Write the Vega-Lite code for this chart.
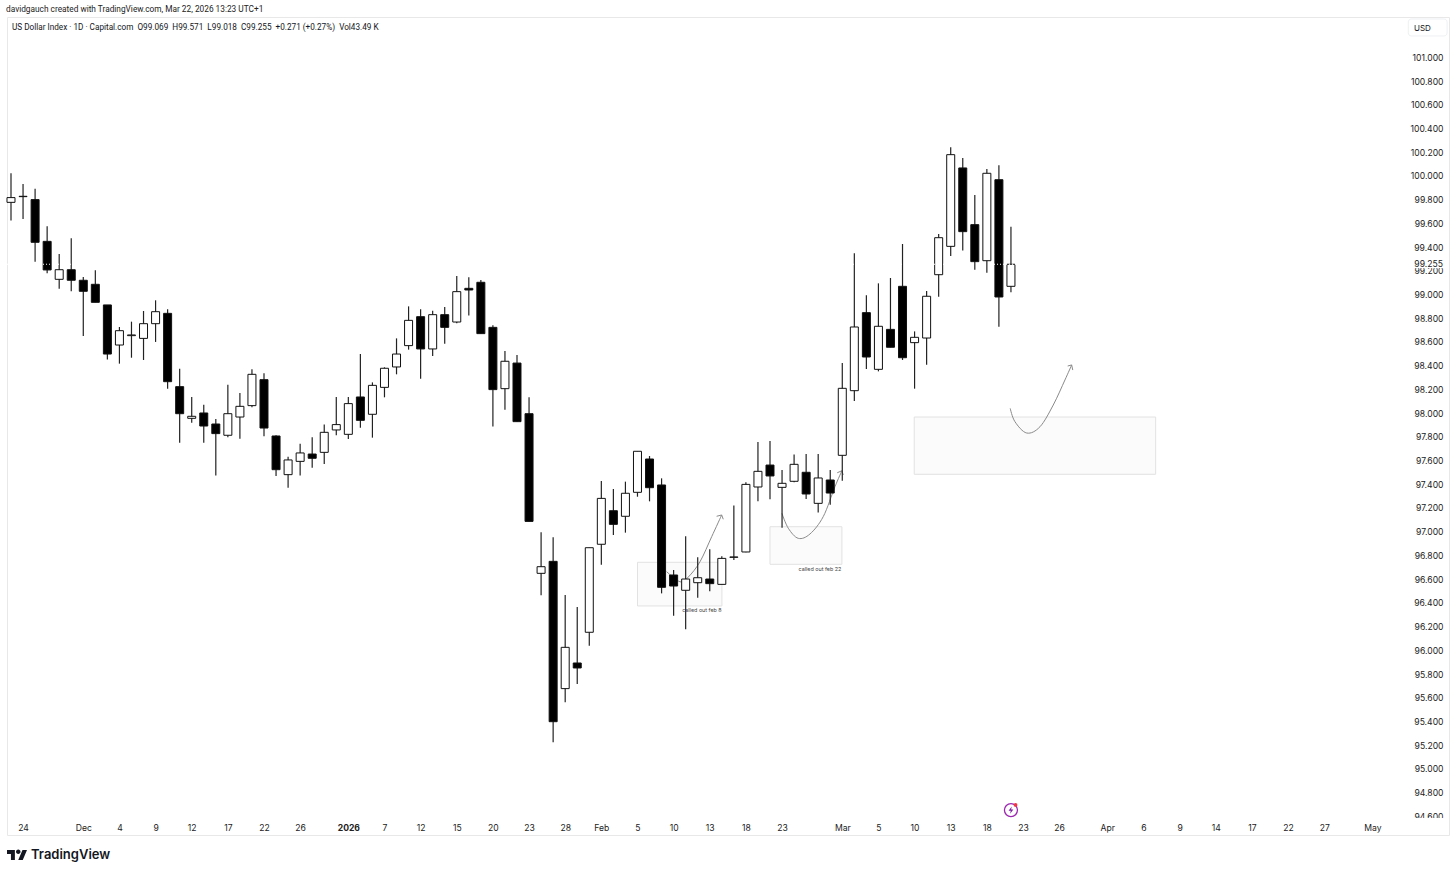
{"$schema":"https://vega.github.io/schema/vega-lite/v6.json","width":1442,"height":818,"autosize":"none","padding":{"left":7,"top":17,"right":7,"bottom":39},"background":"#ffffff","title":{"text":"davidgauch created with TradingView.com, Mar 22, 2026 13:23 UTC+1","anchor":"start","frame":"group","offset":4,"dx":-1,"fontSize":8.3,"fontWeight":"normal","font":"Roboto","color":"#222222"},"config":{"view":{"stroke":"#e8e8e8","strokeWidth":1},"font":"Inter","axis":{"labelOverlap":false}},"datasets":{"candles":[{"i":0,"o":99.777,"h":100.022,"l":99.623,"c":99.817},{"i":1,"o":99.825,"h":99.932,"l":99.637,"c":99.828},{"i":2,"o":99.8,"h":99.892,"l":99.277,"c":99.44},{"i":3,"o":99.448,"h":99.575,"l":99.179,"c":99.207},{"i":4,"o":99.128,"h":99.342,"l":99.049,"c":99.209},{"i":5,"o":99.209,"h":99.474,"l":99.027,"c":99.12},{"i":6,"o":99.12,"h":99.148,"l":98.65,"c":99.027},{"i":7,"o":99.086,"h":99.204,"l":98.934,"c":98.934},{"i":8,"o":98.912,"h":98.912,"l":98.451,"c":98.498},{"i":9,"o":98.574,"h":98.726,"l":98.417,"c":98.695},{"i":10,"o":98.653,"h":98.771,"l":98.467,"c":98.659},{"i":11,"o":98.63,"h":98.861,"l":98.448,"c":98.754},{"i":12,"o":98.754,"h":98.951,"l":98.6,"c":98.855},{"i":13,"o":98.841,"h":98.875,"l":98.206,"c":98.265},{"i":14,"o":98.223,"h":98.375,"l":97.751,"c":97.995},{"i":15,"o":97.956,"h":98.136,"l":97.919,"c":97.973},{"i":16,"o":98.001,"h":98.071,"l":97.751,"c":97.891},{"i":17,"o":97.908,"h":97.95,"l":97.473,"c":97.827},{"i":18,"o":97.813,"h":98.24,"l":97.796,"c":97.995},{"i":19,"o":97.967,"h":98.17,"l":97.784,"c":98.057},{"i":20,"o":98.063,"h":98.369,"l":98.049,"c":98.327},{"i":21,"o":98.282,"h":98.335,"l":97.804,"c":97.874},{"i":22,"o":97.807,"h":97.813,"l":97.47,"c":97.523},{"i":23,"o":97.481,"h":97.633,"l":97.371,"c":97.605},{"i":24,"o":97.593,"h":97.742,"l":97.473,"c":97.664},{"i":25,"o":97.655,"h":97.796,"l":97.54,"c":97.619},{"i":26,"o":97.669,"h":97.903,"l":97.571,"c":97.838},{"i":27,"o":97.858,"h":98.136,"l":97.813,"c":97.903},{"i":28,"o":97.821,"h":98.136,"l":97.782,"c":98.08},{"i":29,"o":98.136,"h":98.498,"l":97.877,"c":97.939},{"i":30,"o":97.99,"h":98.259,"l":97.793,"c":98.234},{"i":31,"o":98.217,"h":98.386,"l":98.133,"c":98.378},{"i":32,"o":98.389,"h":98.63,"l":98.327,"c":98.498},{"i":33,"o":98.569,"h":98.9,"l":98.535,"c":98.782},{"i":34,"o":98.813,"h":98.875,"l":98.29,"c":98.541},{"i":35,"o":98.541,"h":98.864,"l":98.482,"c":98.83},{"i":36,"o":98.83,"h":98.895,"l":98.585,"c":98.723},{"i":37,"o":98.768,"h":99.156,"l":98.757,"c":99.024},{"i":38,"o":99.052,"h":99.145,"l":98.822,"c":99.038},{"i":39,"o":99.103,"h":99.122,"l":98.67,"c":98.67},{"i":40,"o":98.723,"h":98.74,"l":97.886,"c":98.198},{"i":41,"o":98.206,"h":98.524,"l":98.029,"c":98.437},{"i":42,"o":98.422,"h":98.49,"l":97.928,"c":97.928},{"i":43,"o":97.995,"h":98.133,"l":97.087,"c":97.087},{"i":44,"o":96.649,"h":96.995,"l":96.464,"c":96.705},{"i":45,"o":96.75,"h":96.953,"l":95.224,"c":95.398},{"i":46,"o":95.677,"h":96.466,"l":95.561,"c":96.025},{"i":47,"o":95.893,"h":96.365,"l":95.716,"c":95.851},{"i":48,"o":96.152,"h":96.865,"l":96.039,"c":96.865},{"i":49,"o":96.894,"h":97.428,"l":96.722,"c":97.281},{"i":50,"o":97.177,"h":97.36,"l":96.972,"c":97.062},{"i":51,"o":97.13,"h":97.422,"l":96.992,"c":97.324},{"i":52,"o":97.332,"h":97.678,"l":97.295,"c":97.678},{"i":53,"o":97.613,"h":97.638,"l":97.256,"c":97.371},{"i":54,"o":97.394,"h":97.45,"l":96.48,"c":96.531},{"i":55,"o":96.635,"h":96.677,"l":96.292,"c":96.542},{"i":56,"o":96.506,"h":96.961,"l":96.177,"c":96.601},{"i":57,"o":96.57,"h":96.784,"l":96.444,"c":96.612},{"i":58,"o":96.601,"h":96.851,"l":96.497,"c":96.562},{"i":59,"o":96.556,"h":96.792,"l":96.556,"c":96.775},{"i":60,"o":96.784,"h":97.22,"l":96.761,"c":96.787},{"i":61,"o":96.829,"h":97.416,"l":96.826,"c":97.399},{"i":62,"o":97.377,"h":97.756,"l":97.256,"c":97.509},{"i":63,"o":97.562,"h":97.765,"l":97.273,"c":97.47},{"i":64,"o":97.374,"h":97.52,"l":97.034,"c":97.408},{"i":65,"o":97.425,"h":97.65,"l":97.416,"c":97.568},{"i":66,"o":97.501,"h":97.655,"l":97.276,"c":97.318},{"i":67,"o":97.239,"h":97.655,"l":97.161,"c":97.453},{"i":68,"o":97.436,"h":97.52,"l":97.228,"c":97.326},{"i":69,"o":97.644,"h":98.422,"l":97.43,"c":98.209},{"i":70,"o":98.189,"h":99.347,"l":98.102,"c":98.726},{"i":71,"o":98.847,"h":98.993,"l":98.372,"c":98.473},{"i":72,"o":98.369,"h":99.094,"l":98.352,"c":98.732},{"i":73,"o":98.706,"h":99.139,"l":98.555,"c":98.555},{"i":74,"o":99.069,"h":99.426,"l":98.448,"c":98.467},{"i":75,"o":98.594,"h":98.689,"l":98.206,"c":98.639},{"i":76,"o":98.633,"h":99.03,"l":98.408,"c":98.985},{"i":77,"o":99.167,"h":99.51,"l":98.982,"c":99.479},{"i":78,"o":99.406,"h":100.241,"l":99.325,"c":100.179},{"i":79,"o":100.067,"h":100.151,"l":99.372,"c":99.53},{"i":80,"o":99.589,"h":99.839,"l":99.209,"c":99.277},{"i":81,"o":99.285,"h":100.058,"l":99.184,"c":100.022},{"i":82,"o":99.968,"h":100.089,"l":98.729,"c":98.979},{"i":83,"o":99.069,"h":99.571,"l":99.018,"c":99.255}],"zones":[{"x0":52.0,"x1":59.01,"y0":96.742,"y1":96.374},{"x0":63.0,"x1":68.97,"y0":97.042,"y1":96.725},{"x0":74.97,"x1":95.01,"y0":97.967,"y1":97.484}],"curves":[{"s":"a","n":0,"x":54.42,"y":96.663},{"s":"a","n":1,"x":55.53,"y":96.578},{"s":"a","n":2,"x":56.22,"y":96.618},{"s":"a","n":3,"x":57.19,"y":96.747},{"s":"a","n":4,"x":58.16,"y":96.958},{"s":"a","n":5,"x":58.99,"y":97.141},{"s":"b","n":0,"x":63.99,"y":97.155},{"s":"b","n":1,"x":64.52,"y":97.029},{"s":"b","n":2,"x":65.35,"y":96.944},{"s":"b","n":3,"x":66.32,"y":96.981},{"s":"b","n":4,"x":67.42,"y":97.127},{"s":"b","n":5,"x":68.39,"y":97.379},{"s":"b","n":6,"x":68.97,"y":97.514},{"s":"c","n":0,"x":82.94,"y":98.04},{"s":"c","n":1,"x":83.33,"y":97.928},{"s":"c","n":2,"x":84.31,"y":97.832},{"s":"c","n":3,"x":85.41,"y":97.885},{"s":"c","n":4,"x":86.51,"y":98.068},{"s":"c","n":5,"x":87.48,"y":98.279},{"s":"c","n":6,"x":88.04,"y":98.406}],"arrows":[{"s":"a","n":0,"x":58.57,"y":97.13},{"s":"a","n":1,"x":58.99,"y":97.141},{"s":"a","n":2,"x":59.12,"y":97.105},{"s":"b","n":0,"x":68.58,"y":97.497},{"s":"b","n":1,"x":68.97,"y":97.514},{"s":"b","n":2,"x":69.08,"y":97.478},{"s":"c","n":0,"x":87.71,"y":98.397},{"s":"c","n":1,"x":88.04,"y":98.406},{"s":"c","n":2,"x":88.13,"y":98.363}]},"layer":[{"data":{"name":"zones"},"mark":{"type":"rect","fill":"#fbfbfb","stroke":"#e2e2e2","strokeWidth":1},"encoding":{"x":{"field":"x0","type":"quantitative","scale":{"domain":[-0.332,119.36],"nice":false,"zero":false,"padding":0},"axis":{"title":null,"orient":"bottom","grid":false,"domain":false,"ticks":false,"tickCount":200,"labelPadding":-8,"labelBaseline":"middle","labelOverlap":false,"labelFlush":false,"labelBound":false,"labelFontSize":8.6,"labelFont":"Inter","labelColor":"#222222","values":[1,6,9,12,15,18,21,24,28,31,34,37,40,43,46,49,52,55,58,61,64,69,72,75,78,81,84,87,91,94,97,100,103,106,109,113],"labelExpr":"{'1':'24','6':'Dec','9':'4','12':'9','15':'12','18':'17','21':'22','24':'26','28':'2026','31':'7','34':'12','37':'15','40':'20','43':'23','46':'28','49':'Feb','52':'5','55':'10','58':'13','61':'18','64':'23','69':'Mar','72':'5','75':'10','78':'13','81':'18','84':'23','87':'26','91':'Apr','94':'6','97':'9','100':'14','103':'17','106':'22','109':'27','113':'May'}[datum.value]","labelFontWeight":{"condition":{"test":"datum.value==28","value":"bold"},"value":"normal"}}},"x2":{"field":"x1"},"y":{"field":"y0","type":"quantitative","scale":{"domain":[94.4427,101.3398],"nice":false,"zero":false},"axis":{"title":null,"orient":"right","grid":false,"domain":false,"ticks":false,"tickCount":200,"labelPadding":-6,"labelAlign":"right","labelBaseline":"middle","labelOverlap":false,"labelFlush":false,"labelBound":false,"labelFontSize":8.6,"labelFont":"Inter","labelColor":"#222222","format":".3f","values":[94.6,94.8,95,95.2,95.4,95.6,95.8,96,96.2,96.4,96.6,96.8,97,97.2,97.4,97.6,97.8,98,98.2,98.4,98.6,98.8,99,99.2,99.4,99.6,99.8,100,100.2,100.4,100.6,100.8,101]}},"y2":{"field":"y1"}}},{"data":{"name":"curves"},"mark":{"type":"line","color":"#8a8a8a","strokeWidth":1,"interpolate":"cardinal"},"encoding":{"x":{"field":"x","type":"quantitative"},"y":{"field":"y","type":"quantitative"},"detail":{"field":"s"},"order":{"field":"n"}}},{"data":{"name":"arrows"},"mark":{"type":"line","color":"#8a8a8a","strokeWidth":1},"encoding":{"x":{"field":"x","type":"quantitative"},"y":{"field":"y","type":"quantitative"},"detail":{"field":"s"},"order":{"field":"n"}}},{"data":{"name":"candles"},"mark":{"type":"rule","color":"#222222","strokeWidth":1.2},"encoding":{"x":{"field":"i","type":"quantitative"},"y":{"field":"l","type":"quantitative"},"y2":{"field":"h"}}},{"data":{"name":"candles"},"mark":{"type":"bar","width":8,"stroke":"#111111","strokeWidth":1},"encoding":{"x":{"field":"i","type":"quantitative"},"y":{"field":"o","type":"quantitative"},"y2":{"field":"c"},"fill":{"condition":{"test":"datum.c<datum.o","value":"#000000"},"value":"#ffffff"}}},{"data":{"values":[{"p":99.255,"a":-0.33,"b":84}]},"mark":{"type":"rule","color":"#ffffff","strokeWidth":1,"strokeDash":[1,2]},"encoding":{"x":{"field":"a","type":"quantitative"},"x2":{"field":"b"},"y":{"field":"p","type":"quantitative"}}},{"data":{"values":[{"x0":116.4,"x1":119,"y0":99.3,"y1":99.222}]},"mark":{"type":"rect","fill":"#ffffff"},"encoding":{"x":{"field":"x0","type":"quantitative"},"x2":{"field":"x1"},"y":{"field":"y0","type":"quantitative"},"y2":{"field":"y1"}}},{"data":{"values":[{"x":118.86,"y":99.255,"t":"99.255"}]},"mark":{"type":"text","font":"Inter","fontSize":8.6,"align":"right","color":"#222222"},"encoding":{"x":{"field":"x","type":"quantitative"},"y":{"field":"y","type":"quantitative"},"text":{"field":"t"}}},{"data":{"values":[{"x":57.35,"y":96.34,"t":"called out feb 8"},{"x":67.15,"y":96.686,"t":"called out feb 22"}]},"mark":{"type":"text","font":"Inter","fontSize":5.4,"color":"#444444"},"encoding":{"x":{"field":"x","type":"quantitative"},"y":{"field":"y","type":"quantitative"},"text":{"field":"t"}}},{"data":{"values":[{"x":0.08,"y":101.247,"t":"US Dollar Index · 1D · Capital.com\u00a0 O99.069\u00a0 H99.571\u00a0 L99.018\u00a0 C99.255\u00a0 +0.271 (+0.27%)\u00a0 Vol43.49 K"}]},"mark":{"type":"text","font":"Roboto","fontSize":8.2,"align":"left","color":"#131722"},"encoding":{"x":{"field":"x","type":"quantitative"},"y":{"field":"y","type":"quantitative"},"text":{"field":"t"}}},{"data":{"values":[{"x0":115.98,"x1":119.2,"y0":101.323,"y1":101.18}]},"mark":{"type":"rect","fill":"#ffffff","stroke":"#eef0f3","strokeWidth":1,"cornerRadius":3},"encoding":{"x":{"field":"x0","type":"quantitative"},"x2":{"field":"x1"},"y":{"field":"y0","type":"quantitative"},"y2":{"field":"y1"}}},{"data":{"values":[{"x":116.45,"y":101.24,"t":"USD"}]},"mark":{"type":"text","font":"Inter","fontSize":8,"align":"left","color":"#131722"},"encoding":{"x":{"field":"x","type":"quantitative"},"y":{"field":"y","type":"quantitative"},"text":{"field":"t"}}},{"data":{"values":[{"x":83,"y":94.653}]},"mark":{"type":"point","shape":"circle","size":170,"filled":false,"stroke":"#9c27b0","strokeWidth":1.3,"opacity":1},"encoding":{"x":{"field":"x","type":"quantitative"},"y":{"field":"y","type":"quantitative"}}},{"data":{"values":[{"x":83,"y":94.653}]},"mark":{"type":"point","shape":"M0.2 -0.9L-0.6 0.15H-0.05L-0.2 0.9L0.6 -0.15H0.05Z","size":64,"filled":true,"fill":"#7b1fa2","opacity":1},"encoding":{"x":{"field":"x","type":"quantitative"},"y":{"field":"y","type":"quantitative"}}},{"data":{"values":[{"x":83.38,"y":94.696}]},"mark":{"type":"point","shape":"circle","size":14,"filled":true,"fill":"#f23645","opacity":1},"encoding":{"x":{"field":"x","type":"quantitative"},"y":{"field":"y","type":"quantitative"}}},{"data":{"values":[{"x":115.98,"x1":119.03,"y":94.586,"y1":94.451}]},"mark":{"type":"rect","fill":"#ffffff"},"encoding":{"x":{"field":"x","type":"quantitative"},"x2":{"field":"x1"},"y":{"field":"y","type":"quantitative"},"y2":{"field":"y1"}}},{"data":{"values":[{"x":0.498,"y":94.274}]},"mark":{"type":"point","shape":"M-0.211 0.507H-0.606V-0.113H-1V-0.507H-0.211ZM0.577 0.507H0.127L0.549 -0.507H1ZM-0.098 -0.338A0.225 0.225 0 1 1 0.352 -0.338A0.225 0.225 0 1 1 -0.098 -0.338Z","size":400,"filled":true,"fill":"#131722","opacity":1,"clip":false},"encoding":{"x":{"field":"x","type":"quantitative"},"y":{"field":"y","type":"quantitative"}}},{"data":{"values":[{"x":1.66,"y":94.27,"t":"TradingView"}]},"mark":{"type":"text","font":"Inter","fontSize":13,"fontWeight":600,"align":"left","color":"#131722"},"encoding":{"x":{"field":"x","type":"quantitative"},"y":{"field":"y","type":"quantitative"},"text":{"field":"t"}}}]}
